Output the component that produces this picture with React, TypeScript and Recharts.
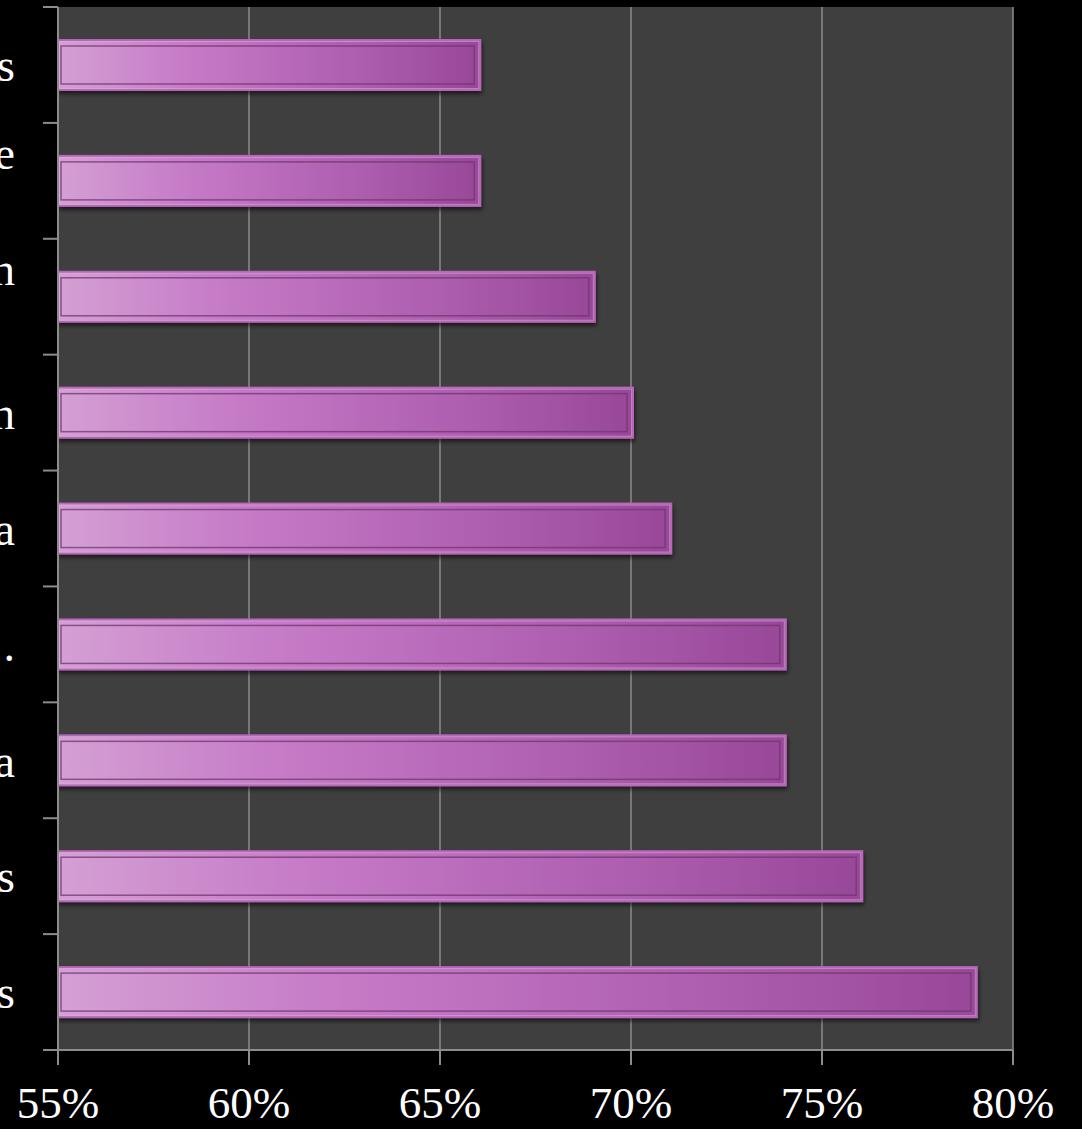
import React from 'react';
import { BarChart, Bar, XAxis, YAxis, CartesianGrid } from 'recharts';

// Category labels as visible in the picture (cut off at the left edge); "\n" marks a wrapped label
const categoryLabels = ['s', 'e\n', 'n\n', 'n', 'a', '.', 'a', 's', 's'];
const shares = [66, 66, 69, 70, 71, 74, 74, 76, 79];
const xTicks = [55, 60, 65, 70, 75, 80];

const data = shares.map((v, i) => ({ id: `c${i}`, value: v }));

const FONT = '"Liberation Serif", "Times New Roman", Times, serif';
const AXIS = '#8c8c8c';

function YTick(props: any) {
  const { x, y, index, payload } = props;
  const half = payload && payload.offset ? payload.offset : 1043 / 9 / 2;
  const label = categoryLabels[index] ?? '';
  const lines = label.split('\n');
  const lh = 56;
  const start = -((lines.length - 1) * lh) / 2;
  return (
    <g>
      <line x1={x - 15} x2={x} y1={y - half} y2={y - half} stroke={AXIS} strokeWidth={2} />
      {index === shares.length - 1 && (
        <line x1={x - 15} x2={x} y1={y + half} y2={y + half} stroke={AXIS} strokeWidth={2} />
      )}
      <text textAnchor="end" fontFamily={FONT} fontSize={46} fill="#ffffff">
        {lines.map((l: string, k: number) => (
          <tspan key={k} x={x - 43} y={y + start + k * lh} dy="0.355em">
            {l}
          </tspan>
        ))}
      </text>
    </g>
  );
}

function BarShape(props: any) {
  const { x, y, width, height } = props;
  if (!width || !height) return null;
  return (
    <g filter="url(#barShadow)">
      <rect x={x} y={y} width={width + 2} height={height} fill="url(#barGrad)" stroke="#b866ba" strokeWidth={2} />
      <rect x={x + 1.5} y={y + 1.5} width={width - 1} height={height - 3} fill="none" stroke="#e2aee2" strokeOpacity={0.55} strokeWidth={1} />
      <rect x={x + 3} y={y + 6} width={width - 7} height={height - 12} fill="none" stroke="#70346f" strokeOpacity={0.75} strokeWidth={1.5} />
    </g>
  );
}

export default function App() {
  return (
    <div style={{ position: 'absolute', left: 0, top: 0, width: 1082, height: 1129, background: '#000000' }}>
      <BarChart
        width={1082}
        height={1129}
        data={data}
        layout="vertical"
        margin={{ top: 7, right: 69, left: 0, bottom: 0 }}
        barSize={50}
      >
        <defs>
          <linearGradient id="barGrad" x1="0" y1="0" x2="1" y2="0">
            <stop offset="0%" stopColor="#d4a0d4" />
            <stop offset="30%" stopColor="#c67bc7" />
            <stop offset="70%" stopColor="#ae5fb0" />
            <stop offset="100%" stopColor="#984898" />
          </linearGradient>
          <filter id="barShadow" x="-5%" y="-20%" width="110%" height="150%">
            <feDropShadow dx="1" dy="3" stdDeviation="2" floodColor="#000000" floodOpacity="0.6" />
          </filter>
        </defs>
        <CartesianGrid horizontal={false} stroke={AXIS} strokeWidth={1.5} fill="#3f3f3f" fillOpacity={1} />
        <XAxis
          type="number"
          dataKey="value"
          domain={[55, 80]}
          ticks={xTicks}
          allowDataOverflow
          tickFormatter={(v: number) => `${v}%`}
          tick={{ fill: '#ffffff', fontSize: 45, fontFamily: FONT }}
          tickSize={15}
          tickMargin={21}
          stroke={AXIS}
          axisLine={{ stroke: AXIS, strokeWidth: 2 }}
          tickLine={{ stroke: AXIS, strokeWidth: 2 }}
          height={79}
          interval={0}
        />
        <YAxis
          type="category"
          dataKey="id"
          width={58}
          tickSize={0}
          tickMargin={0}
          tickLine={false}
          axisLine={{ stroke: AXIS, strokeWidth: 2 }}
          tick={<YTick />}
          interval={0}
        />
        <Bar dataKey="value" isAnimationActive={false} shape={<BarShape />} />
      </BarChart>
    </div>
  );
}
